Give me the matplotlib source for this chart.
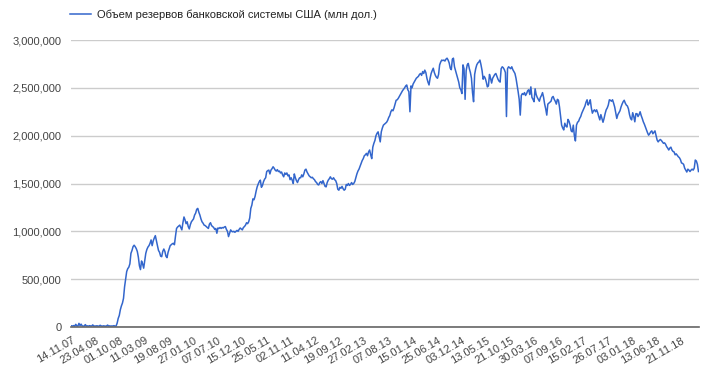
import numpy as np
import pandas as pd
import matplotlib
matplotlib.use('Agg')
import matplotlib.pyplot as plt
from matplotlib.ticker import FuncFormatter

plt.rcParams['font.family'] = ['Liberation Sans', 'DejaVu Sans']

# weekly reserves, thousands of mln USD, starting 14.11.2007
res_a = [12, 10, 15, 9, 28, 11, 10, 38, 14, 30, 12, 9, 11, 25, 10, 12, 9, 14, 11, 10,
         22, 9, 11, 10, 13, 9, 10, 18, 11, 9, 12, 10, 9, 11, 20, 10, 12, 9, 11, 10,
         14, 9, 10, 40, 90, 120, 180, 220, 250, 300, 420, 500, 580, 610, 625, 660, 770, 800, 840, 855,
         840, 820, 790, 730, 640, 600, 690, 660, 615, 690, 770, 810, 835, 850, 875, 910, 850, 900, 930, 955,
         900, 850, 800, 780, 740, 735, 790, 815, 790, 740, 725, 780, 815, 850, 860, 870, 875, 860, 950, 1030]
res_b = [1045, 1055, 1065, 1040, 1015, 1090, 1150, 1120, 1080, 1100, 1050, 1025, 1070, 1100, 1115, 1130, 1170, 1190, 1230, 1240,
         1200, 1170, 1130, 1100, 1085, 1065, 1060, 1050, 1040, 1030, 1075, 1090, 1060, 1050, 1040, 1020, 1030, 980, 1035, 1030,
         1040, 1030, 1040, 1035, 1045, 1050, 1020, 1000, 945, 980, 1015, 1000, 995, 1000, 990, 1000, 1010, 1000, 1020, 1035,
         1025, 1015, 1040, 1050, 1065, 1090, 1080, 1100, 1140, 1240, 1275, 1340, 1330, 1365, 1420, 1465, 1495, 1520, 1535, 1460,
         1480, 1520, 1545, 1560, 1625, 1635, 1640, 1600, 1640, 1655, 1675, 1660, 1640, 1630, 1645, 1625, 1630, 1610, 1620, 1590]
res_c = [1570, 1610, 1595, 1610, 1580, 1590, 1540, 1560, 1535, 1500, 1600, 1560, 1530, 1510, 1540, 1560, 1560, 1590, 1570, 1600,
         1640, 1650, 1620, 1600, 1580, 1570, 1560, 1565, 1550, 1540, 1520, 1510, 1490, 1485, 1510, 1520, 1500, 1530, 1500, 1470,
         1465, 1510, 1535, 1550, 1570, 1550, 1545, 1560, 1540, 1530, 1500, 1440, 1430, 1460, 1450, 1470, 1445, 1430, 1440, 1490,
         1480, 1500, 1480, 1490, 1510, 1490, 1500, 1520, 1560, 1600, 1630, 1650, 1680, 1710, 1740, 1760, 1790, 1800, 1815, 1790,
         1830, 1850, 1800, 1760, 1880, 1920, 1950, 2000, 2025, 2040, 1990, 1935, 2040, 2080, 2110, 2120, 2130, 2140, 2160, 2190]
res_d = [2210, 2250, 2270, 2260, 2290, 2330, 2370, 2375, 2390, 2410, 2430, 2450, 2470, 2485, 2500, 2520, 2530, 2480, 2460, 2250,
         2520, 2500, 2540, 2560, 2580, 2600, 2610, 2620, 2640, 2650, 2630, 2670, 2650, 2685, 2660, 2600, 2560, 2530, 2600, 2650,
         2680, 2705, 2660, 2630, 2610, 2600, 2640, 2740, 2770, 2790, 2785, 2790, 2780, 2800, 2810, 2790, 2760, 2705, 2690, 2800,
         2810, 2720, 2680, 2640, 2600, 2560, 2500, 2480, 2440, 2740, 2700, 2380, 2680, 2740, 2755, 2700, 2660, 2600, 2450, 2355,
         2640, 2700, 2740, 2760, 2770, 2790, 2740, 2680, 2590, 2620, 2600, 2560, 2510, 2520, 2640, 2600, 2550, 2600, 2620, 2640]
res_e = [2650, 2620, 2590, 2570, 2560, 2700, 2720, 2710, 2690, 2660, 2200, 2700, 2720, 2710, 2700, 2720, 2690, 2670, 2650, 2600,
         2530, 2460, 2380, 2215, 2420, 2440, 2430, 2450, 2420, 2440, 2470, 2480, 2430, 2510, 2400, 2380, 2355, 2490, 2430, 2400,
         2380, 2360, 2400, 2420, 2450, 2400, 2330, 2280, 2215, 2330, 2340, 2350, 2360, 2400, 2410, 2380, 2360, 2330, 2380, 2370,
         2300, 2200, 2110, 2080, 2060, 2130, 2100, 2090, 2170, 2150, 2110, 2050, 2040, 2110, 2000, 1945, 2110, 2140, 2150, 2180,
         2200, 2235, 2260, 2285, 2310, 2350, 2375, 2320, 2340, 2375, 2290, 2235, 2260, 2270, 2250, 2270, 2240, 2200, 2165, 2220]
res_f = [2180, 2140, 2180, 2230, 2270, 2290, 2320, 2375, 2370, 2360, 2375, 2340, 2300, 2240, 2180, 2220, 2240, 2260, 2300, 2330,
         2355, 2370, 2340, 2320, 2310, 2280, 2220, 2180, 2165, 2240, 2200, 2145, 2230, 2230, 2200, 2220, 2250, 2210, 2180, 2145,
         2120, 2090, 2060, 2030, 2005, 2020, 2040, 2050, 2020, 2035, 2050, 2000, 1955, 1935, 1950, 1960, 1950, 1935, 1920, 1925,
         1910, 1885, 1870, 1850, 1870, 1880, 1850, 1835, 1830, 1800, 1810, 1795, 1780, 1770, 1750, 1715, 1710, 1700, 1660, 1640,
         1620, 1650, 1640, 1625, 1640, 1650, 1640, 1660, 1745, 1735, 1700, 1625]

reserves = np.array(res_a + res_b + res_c + res_d + res_e + res_f) * 1000
dates = pd.date_range('2007-11-14', periods=len(reserves), freq='7D')
label_step = 23
series_name = 'Объем резервов банковской системы США (млн дол.)'

n = len(reserves)
fig = plt.figure(figsize=(7.17, 3.91), dpi=100)
ax = fig.add_axes([71 / 717, 1 - 327 / 391, 628 / 717, 287 / 391])

ax.plot(np.arange(n), reserves, color='#3366cc', lw=1.1, label=series_name)

ax.set_xlim(-0.5, n - 0.5)
ax.set_ylim(0, 3000000)
ax.set_yticks(range(0, 3000001, 500000))
ax.yaxis.set_major_formatter(FuncFormatter(lambda v, p: '{:,}'.format(int(v))))
ax.grid(axis='y', color='#cccccc', lw=1)
ax.set_axisbelow(True)
for s in ['top', 'right', 'left']:
    ax.spines[s].set_visible(False)
ax.spines['bottom'].set_color('#666666')
ax.spines['bottom'].set_linewidth(1.2)
ax.spines['bottom'].set_zorder(3)

ticks = np.arange(0, n, label_step)
ax.set_xticks(ticks)
ax.set_xticklabels([d.strftime('%d.%m.%y') for d in dates[ticks]], rotation=30,
                   ha='right', va='top', rotation_mode='anchor')
ax.tick_params(axis='y', length=0, labelsize=8, colors='#444444', pad=7)
ax.tick_params(axis='x', length=0, labelsize=8, colors='#444444', pad=6)

fig.legend(loc='center left', bbox_to_anchor=(70 / 717, 1 - 15 / 391), frameon=False,
           fontsize=8, handlelength=1.9, handletextpad=0.5, borderpad=0, borderaxespad=0,
           labelcolor='#222222')

fig.savefig('out.png', dpi=100)
